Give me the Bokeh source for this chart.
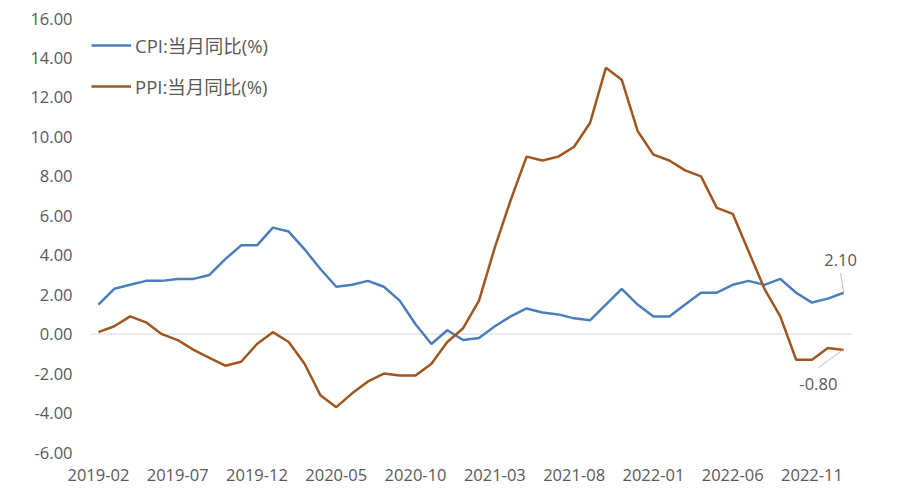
from bokeh.plotting import figure
from bokeh.models import FixedTicker, NumeralTickFormatter, Legend, LegendItem, ColumnDataSource, Label
from bokeh.embed import file_html
from bokeh.resources import INLINE

months = []
for y in range(2019, 2024):
    for m in range(1, 13):
        if (y == 2019 and m < 2) or (y == 2023 and m > 1):
            continue
        months.append(f"{y}-{m:02d}")

cpi = [1.5, 2.3, 2.5, 2.7, 2.7, 2.8, 2.8, 3.0, 3.8, 4.5, 4.5,
       5.4, 5.2, 4.3, 3.3, 2.4, 2.5, 2.7, 2.4, 1.7, 0.5, -0.5, 0.2,
       -0.3, -0.2, 0.4, 0.9, 1.3, 1.1, 1.0, 0.8, 0.7, 1.5, 2.3, 1.5,
       0.9, 0.9, 1.5, 2.1, 2.1, 2.5, 2.7, 2.5, 2.8, 2.1, 1.6, 1.8,
       2.1]
ppi = [0.1, 0.4, 0.9, 0.6, 0.0, -0.3, -0.8, -1.2, -1.6, -1.4, -0.5,
       0.1, -0.4, -1.5, -3.1, -3.7, -3.0, -2.4, -2.0, -2.1, -2.1, -1.5, -0.4,
       0.3, 1.7, 4.4, 6.8, 9.0, 8.8, 9.0, 9.5, 10.7, 13.5, 12.9, 10.3,
       9.1, 8.8, 8.3, 8.0, 6.4, 6.1, 4.2, 2.3, 0.9, -1.3, -1.3, -0.7,
       -0.8]
y_ticks = [-6, -4, -2, 0, 2, 4, 6, 8, 10, 12, 14, 16]
x_tick_idx = list(range(0, len(months), 5))
series_names = ["CPI:当月同比(%)", "PPI:当月同比(%)"]

FONT = "'Open Sans', 'Noto Sans CJK SC', sans-serif"
TXT = "#595959"
BLUE = "#4A7EBB"
BROWN = "#A0561F"

n = len(months)
x = list(range(n))
src = ColumnDataSource(dict(x=x, cpi=cpi, ppi=ppi))

p = figure(width=915, height=486, output_backend="svg", toolbar_location=None,
           x_range=(-0.5, n + 0.5), y_range=(-6, 16),
           min_border_left=90, min_border_right=48, min_border_top=18, min_border_bottom=34)
p.outline_line_color = None
p.xgrid.visible = False
p.ygrid.visible = False

# zero line across the category band
p.segment(x0=[-0.5], y0=[0], x1=[n - 0.5], y1=[0], line_color="#D9D9D9", line_width=1)

r1 = p.line("x", "cpi", source=src, line_color=BLUE, line_width=2.5)
r2 = p.line("x", "ppi", source=src, line_color=BROWN, line_width=2.5)

for ax in (p.xaxis[0], p.yaxis[0]):
    ax.axis_line_color = None
    ax.major_tick_line_color = None
    ax.minor_tick_line_color = None
    ax.major_tick_out = 0
    ax.major_tick_in = 0
    ax.minor_tick_out = 0
    ax.major_label_text_font = FONT
    ax.major_label_text_font_size = "16.5px"
    ax.major_label_text_color = TXT

p.yaxis.ticker = FixedTicker(ticks=y_ticks)
p.yaxis.formatter = NumeralTickFormatter(format="0.00")
p.yaxis.major_label_standoff = 18
p.xaxis.ticker = FixedTicker(ticks=x_tick_idx)
p.xaxis.major_label_overrides = {i: months[i] for i in x_tick_idx}
p.xaxis.major_label_standoff = 16

legend = Legend(items=[LegendItem(label=series_names[0], renderers=[r1]),
                       LegendItem(label=series_names[1], renderers=[r2])],
                location=(1, 353), padding=0, margin=0, spacing=15,
                glyph_width=40, glyph_height=22, label_height=22, label_standoff=4,
                label_text_font=FONT, label_text_font_size="18.5px", label_text_color=TXT,
                border_line_color=None, background_fill_alpha=0)
p.add_layout(legend)

# end-point labels
last = n - 1
p.add_layout(Label(x=last - 0.2, y=cpi[-1], text=f"{cpi[-1]:.2f}", x_offset=0, y_offset=33,
                   text_align="center", text_baseline="middle", text_font=FONT,
                   text_font_size="16.5px", text_color=TXT))
p.segment(x0=[last - 0.2], y0=[cpi[-1] + 1.0], x1=[last], y1=[cpi[-1]],
          line_color="#BFBFBF", line_width=1)
p.add_layout(Label(x=last - 1.6, y=ppi[-1], text=f"{ppi[-1]:.2f}", x_offset=0, y_offset=-34,
                   text_align="center", text_baseline="middle", text_font=FONT,
                   text_font_size="16.5px", text_color=TXT))
p.segment(x0=[last - 1.6], y0=[ppi[-1] - 0.9], x1=[last - 0.05], y1=[ppi[-1]],
          line_color="#BFBFBF", line_width=1)

open("out.html", "w").write(file_html(p, INLINE))
